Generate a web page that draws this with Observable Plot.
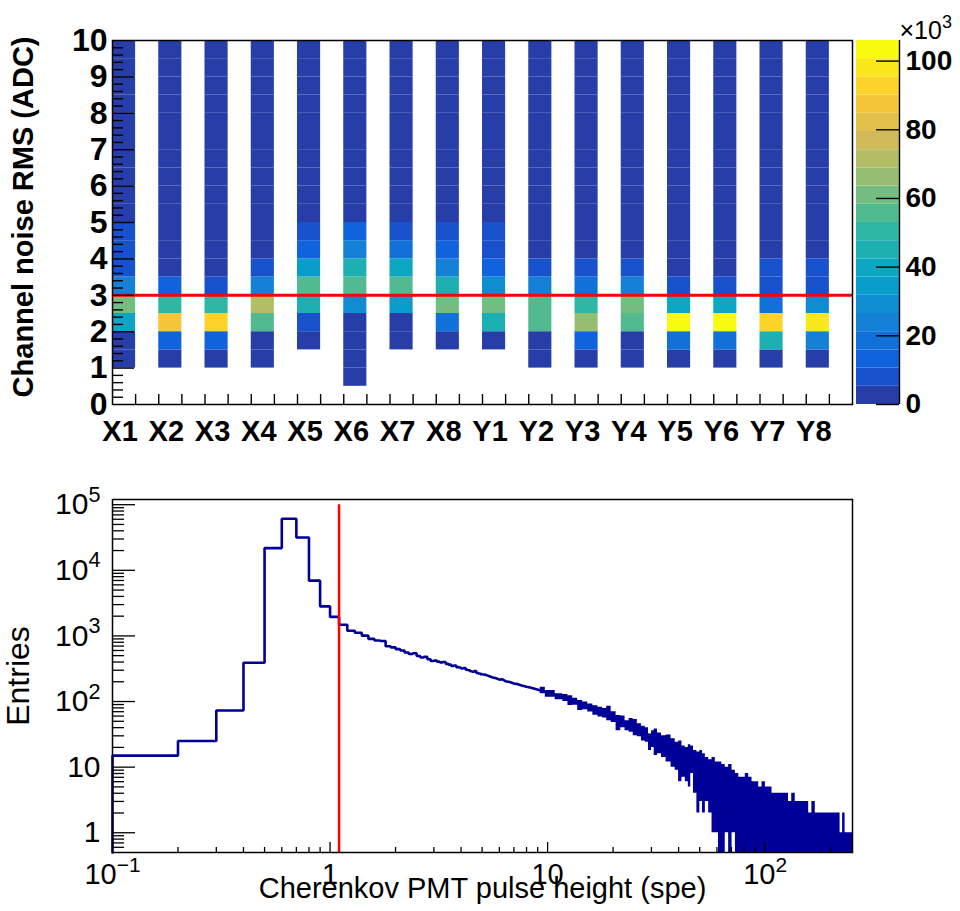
<!DOCTYPE html>
<html>
<head>
<meta charset="utf-8">
<script src="https://cdn.jsdelivr.net/npm/d3@7"></script>
<script src="https://cdn.jsdelivr.net/npm/@observablehq/plot@0.6"></script>
<style>
html, body { margin: 0; padding: 0; background: #fff; }
#chart { position: relative; width: 960px; height: 911px; overflow: hidden; font-family: "Liberation Sans", Arial, sans-serif; }
#chart svg { position: absolute; left: 0; }
</style>
</head>
<body>
<div id="chart"></div>
<script>
// ---------------- data: top panel (channel noise RMS) ----------------
const channels = ["X1","X2","X3","X4","X5","X6","X7","X8","Y1","Y2","Y3","Y4","Y5","Y6","Y7","Y8"];
const rmsBinLow = [0.5,1.0,1.5,2.0,2.5,3.0,3.5,4.0,4.5,5.0,5.5,6.0,6.5,7.0,7.5,8.0,8.5,9.0,9.5];
const rmsBinWidth = 0.5;
// counts per channel, one entry per RMS bin (rmsBinLow order)
const noiseCounts = [
  [0,3500,4800,40000,61000,24000,8500,7500,6000,4000,3000,2300,1800,1400,1100,900,700,600,500],
  [0,3000,13000,87500,50000,12500,4500,3500,2500,1800,1300,1000,800,650,500,400,350,300,250],
  [0,3200,13500,93000,49000,9000,4200,3200,2400,1700,1300,1000,800,600,500,400,350,300,250],
  [0,2500,5000,55000,71000,24500,9000,4800,3600,2600,1900,1400,1100,850,700,550,450,380,320],
  [0,0,3000,9500,45000,55000,35000,14000,7000,5000,3800,2800,2000,1500,1150,900,700,550,450],
  [1500,2500,3500,4500,29000,56000,46000,24000,13000,5000,4000,3000,2200,1600,1200,950,750,600,480],
  [0,0,3500,5000,34000,55000,40000,18500,8000,4800,3600,2600,1900,1400,1100,850,700,550,450],
  [0,0,3000,18000,61000,45000,24000,13500,7500,4600,3400,2500,1800,1350,1050,820,650,520,420],
  [0,0,4000,45000,60000,29000,13000,8500,6500,4500,3400,2500,1800,1350,1050,820,650,520,420],
  [0,2500,5000,56000,57000,24000,9000,4800,3600,2600,1900,1400,1100,850,700,550,450,380,320],
  [0,3000,13500,66000,50000,18500,8500,4500,3400,2500,1800,1350,1050,820,650,520,420,350,300],
  [0,2800,4800,55000,61000,24000,8000,4700,3500,2500,1850,1400,1080,840,680,540,440,370,310],
  [0,3000,18500,106000,40000,9000,5000,3700,2700,2000,1500,1150,900,700,560,450,380,320,270],
  [0,3200,19000,104500,40500,8500,4900,3600,2600,1900,1450,1100,880,690,550,440,370,310,260],
  [0,3500,45000,93000,18000,9500,6500,4800,3600,2600,1900,1400,1100,850,700,550,450,380,320],
  [0,3000,24000,98000,29500,9000,6000,4600,3400,2500,1800,1350,1050,820,650,520,420,350,300]
];
const rmsCut = 3;
const rmsTickLabels = [0,1,2,3,4,5,6,7,8,9,10];
const colorbarTicks = [0,20,40,60,80,100];   // in units of 10^3
const topYTitle = "Channel noise RMS (ADC)";
const colorbarExp = "×10^3";

// ---------------- data: bottom panel (Cherenkov PMT pulse height) ----------------
const pulseBinLow = [0.1,0.2,0.3,0.4,0.5,0.6,0.7,0.8,0.9,
  1.0,1.1,1.2,1.3,1.4,1.5,1.6,1.7,1.8,1.9,
  2.0,2.1,2.2,2.3,2.4,2.5,2.6,2.7,2.8,2.9,
  3.0,3.1,3.2,3.3,3.4,3.5,3.6,3.7,3.8,3.9,
  4.0,4.1,4.2,4.3,4.4,4.5,4.6,4.7,4.8,4.9];
const pulseBinCounts = [15,25,73,390,21800,61000,31700,6950,2820,
  1950,1480,1200,1120,1010,900,850,835,695,670,
  630,600,560,530,545,495,470,480,440,415,
  420,405,395,400,375,365,350,355,335,330,
  318,325,305,300,290,285,292,272,268,262];
const pulseBinWidth = 0.1;
const trendX = [5.0,5.2,5.4,5.6,5.8,6.0,6.2,6.4,6.7,7.0,7.3,7.6,8.0,8.4,8.8,9.2,9.6,10,10.5,11,11.5,12,12.5,13,13.5,14,14.5,15,16,17,18,19,20,21,22,23,24,25,26,27,28,30,32,34,36,38,40,43,46];
const trendY = [260,255,243,232,226,216,218,204,198,188,184,176,168,162,155,149,142,138,131,124,120,114,110,104,101,92,90,86,80,73,68,66,59,54,50,46,44,42,39,36,34,28,25,21,19,17,15,12,11];
const tailX  = [9.25,10.3,11.4,12.1,12.7,13.4,14.1,14.9,15.7,16.6,17.5,18.3,19.1,20.1,21.2,22.2,23.2,24.2,25.3,26.4,27.6,28.6,29.6,30.5,31.3,32.7,34.1,36,37.9,39.3,40.7,42.2,43.7,45,46,47.7,49.4,50.8,52.2,54,56,58,60,62,64.4,66.7,69.2,71.7,74.3,77,79.6,82.5,85.5,88.6,91.8,95,98.5,102,106,109,113,119,126,130,135,140,145,150,156,161,167,173,180,190,200,210,218,224,230,236,253];
const tailLo = [131,116,106,100,87,88,73,75,69,62,58,56,51,48,36,40,36,34,30,29,25,24,18,20,15,16,14,12,10,9,6,7,6,5,8,4,2,3,2,3,2,1,1,0,0,1,0,1,0,0,0,0,0,0,0,0,0,0,0,0,0,0,0,0,0,0,0,0,0,0,0,0,0,0,0,0,0,0,0,0,0];
const tailHi = [165,147,131,128,123,112,104,98,92,86,82,78,85,70,61,60,51,55,53,46,42,40,32,36,38,33,30,31,27,24,25,21,20,22,21,18,17,18,16,14,13,14,12,12,11,10,11,9,8,7,7,8,7,6,6,5,6,5,5,4,4,4,4,3,4,3,3,3,3,2,3,2,2,2,2,2,2,1,2,1,1];
const speCut = 1.1;
const bottomXTitle = "Cherenkov PMT pulse height (spe)";
const bottomYTitle = "Entries";

// ---------------- styling helpers ----------------
const FONT = "'Liberation Sans', Arial, Helvetica, sans-serif";
const W = 960;
const mL = 112, mR = 108;
const frameW = W - mL - mR;
const navy = "#000099";
const red = "#ff0000";

// ROOT kBird palette, 20 contour bands
const birdStops = [
  [0.2082,0.1664,0.5293],[0.0592,0.3599,0.8684],[0.0780,0.5041,0.8385],
  [0.0232,0.6419,0.7914],[0.1802,0.7178,0.6425],[0.5301,0.7492,0.4662],
  [0.8186,0.7328,0.3499],[0.9956,0.7862,0.1968],[0.9764,0.9832,0.0539]
];
const birdInterp = d3.piecewise(d3.interpolateRgb, birdStops.map(c => d3.rgb(c[0]*255, c[1]*255, c[2]*255)));
const nBands = 20;
const bandColors = d3.range(nBands).map(i => birdInterp(Math.floor((i + 0.99) * 255 / nBands) / 254));
const zmax = d3.max(noiseCounts.flat());
const thresholds = d3.range(1, nBands).map(i => i * zmax / nBands);

function supify(svg) {
  svg.querySelectorAll("text").forEach(t => {
    const s = t.textContent;
    const i = s.indexOf("^");
    if (i < 0) return;
    t.textContent = s.slice(0, i);
    const ts = document.createElementNS("http://www.w3.org/2000/svg", "tspan");
    ts.setAttribute("font-size", "72%");
    ts.setAttribute("dy", "-0.58em");
    ts.textContent = s.slice(i + 1);
    t.appendChild(ts);
  });
}
function fmtPow(d) {
  const e = Math.round(Math.log10(d));
  if (e === 0) return "1";
  if (e === 1) return "10";
  return "10^" + (e < 0 ? "\u2212" + (-e) : String(e));
}

const chart = document.getElementById("chart");

// ---------------- top panel ----------------
const topH = 455, tmT = 40, tmB = 51;
const frameHTop = topH - tmT - tmB;
const cells = [];
channels.forEach((ch, i) => noiseCounts[i].forEach((n, k) => {
  if (n > 0) cells.push({ch, i, y1: rmsBinLow[k], y2: rmsBinLow[k] + rmsBinWidth, n});
}));
const yMajorTop = d3.range(1, 10);
const yMinorTop = d3.range(1, 50).filter(i => i % 5 !== 0).map(i => i / 5);
const xTicksTop = d3.range(1, channels.length * 2).map(i => i / 2);

const topPlot = Plot.plot({
  width: W, height: topH,
  marginLeft: mL, marginRight: mR, marginTop: tmT, marginBottom: tmB,
  style: {fontFamily: FONT, background: "transparent", color: "black", overflow: "visible"},
  x: {domain: [0, channels.length]},
  y: {domain: [0, 10]},
  color: {type: "threshold", domain: thresholds, range: bandColors},
  marks: [
    Plot.rect(cells, {x1: d => d.i, x2: d => d.i + rmsBinWidth, y1: "y1", y2: "y2", fill: "n"}),
    Plot.ruleY([rmsCut], {stroke: red, strokeWidth: 3}),
    Plot.ruleY(yMinorTop, {stroke: "black", strokeWidth: 1.4, insetRight: frameW - 11}),
    Plot.ruleY(yMajorTop, {stroke: "black", strokeWidth: 1.4, insetRight: frameW - 22}),
    Plot.ruleX(xTicksTop, {stroke: "black", strokeWidth: 1.4, insetTop: frameHTop - 10}),
    Plot.axisY({ticks: rmsTickLabels, tickSize: 0, tickPadding: 5, fontSize: 32, fontWeight: "bold", label: null}),
    Plot.axisX({ticks: channels.map((_, i) => i + rmsBinWidth / 2), tickFormat: d => channels[Math.floor(d)],
      tickSize: 0, tickPadding: 16, dx: -4, fontSize: 29, fontWeight: "bold", label: null}),
    Plot.text([topYTitle], {text: d => d, frameAnchor: "top-left", rotate: -90, textAnchor: "end", lineAnchor: "middle",
      dx: -89, dy: -4, fontSize: 29, fontWeight: "bold"}),
    Plot.frame({stroke: "black", strokeWidth: 1.5})
  ]
});
topPlot.style.top = "0px";
chart.appendChild(topPlot);

// ---------------- colour bar ----------------
const zmaxK = zmax / 1000;
const bandRects = d3.range(nBands).map(i => ({y1: i * zmaxK / nBands, y2: (i + 1) * zmaxK / nBands, c: bandColors[i]}));
const cbLeft = 856, cbRight = 899;
const cbPlot = Plot.plot({
  width: W, height: topH,
  marginLeft: cbLeft, marginRight: W - cbRight, marginTop: tmT, marginBottom: tmB,
  style: {fontFamily: FONT, background: "transparent", color: "black", overflow: "visible"},
  x: {domain: [0, 1], axis: null},
  y: {domain: [0, zmaxK]},
  color: {type: "identity"},
  marks: [
    Plot.rect(bandRects, {x1: 0, x2: 1, y1: "y1", y2: "y2", fill: "c"}),
    Plot.ruleX([1], {stroke: "black", strokeWidth: 1.4}),
    Plot.ruleY(colorbarTicks, {stroke: "black", strokeWidth: 1.4, insetLeft: (cbRight - cbLeft) - 23}),
    Plot.axisY({anchor: "right", ticks: colorbarTicks, tickSize: 0, tickPadding: 6, fontSize: 28, fontWeight: "bold", label: null}),
    Plot.text([colorbarExp], {text: d => d, frameAnchor: "top-right", textAnchor: "start", lineAnchor: "middle", dy: -10, fontSize: 25})
  ]
});
cbPlot.style.top = "0px";
supify(cbPlot);
chart.appendChild(cbPlot);

// ---------------- bottom panel ----------------
const botTop = 455, botH = 456, bmT = 44, bmB = 59;
const frameHBot = botH - bmT - bmB;
const yFloor = 0.5, yCeil = 1.2e5;
const linePts = [{x: pulseBinLow[0], y: yFloor}];
pulseBinLow.forEach((x0, j) => {
  linePts.push({x: x0, y: pulseBinCounts[j]}, {x: x0 + pulseBinWidth, y: pulseBinCounts[j]});
});
trendX.forEach((x, j) => linePts.push({x, y: trendY[j]}));
const tail = tailX.map((x, j) => ({x, lo: Math.max(tailLo[j], yFloor), hi: Math.max(tailHi[j], yFloor)}));

const yMajorBot = [1, 10, 100, 1e3, 1e4, 1e5];
const yMinorBot = [];
[0.1, 1, 10, 100, 1e3, 1e4].forEach(dec => d3.range(2, 10).forEach(m => { const v = m * dec; if (v > yFloor && v < yCeil) yMinorBot.push(v); }));
const xMajorBot = [1, 10, 100];
const xMinorBot = [];
[0.1, 1, 10, 100].forEach(dec => d3.range(2, 10).forEach(m => { const v = m * dec; if (v < 252) xMinorBot.push(v); }));

const botPlot = Plot.plot({
  width: W, height: botH,
  marginLeft: mL, marginRight: mR, marginTop: bmT, marginBottom: bmB,
  style: {fontFamily: FONT, background: "transparent", color: "black", overflow: "visible"},
  x: {type: "log", domain: [0.1, 252]},
  y: {type: "log", domain: [yFloor, yCeil]},
  marks: [
    Plot.areaY(tail, {x: "x", y1: "lo", y2: "hi", fill: navy, curve: "step"}),
    Plot.line(linePts, {x: "x", y: "y", stroke: navy, strokeWidth: 2.6, strokeLinejoin: "miter"}),
    Plot.ruleX([speCut], {y1: yFloor, y2: 1e5, stroke: red, strokeWidth: 2.5}),
    Plot.ruleY(yMinorBot, {stroke: "black", strokeWidth: 1.3, insetRight: frameW - 12}),
    Plot.ruleY(yMajorBot, {stroke: "black", strokeWidth: 1.3, insetRight: frameW - 23}),
    Plot.ruleX(xMinorBot, {stroke: "black", strokeWidth: 1.3, insetTop: frameHBot - 5}),
    Plot.ruleX(xMajorBot, {stroke: "black", strokeWidth: 1.3, insetTop: frameHBot - 10}),
    Plot.axisY({ticks: yMajorBot, tickFormat: fmtPow, tickSize: 0, tickPadding: 12, fontSize: 30, label: null}),
    Plot.axisX({ticks: [0.1, 1, 10, 100], tickFormat: fmtPow, tickSize: 0, tickPadding: 11, fontSize: 29, label: null}),
    Plot.text([bottomYTitle], {text: d => d, frameAnchor: "left", rotate: -90, textAnchor: "middle", lineAnchor: "middle",
      dx: -94, fontSize: 32}),
    Plot.text([bottomXTitle], {text: d => d, frameAnchor: "bottom", textAnchor: "middle", lineAnchor: "middle",
      dy: 36, fontSize: 29}),
    Plot.frame({stroke: "black", strokeWidth: 1.5})
  ]
});
botPlot.style.top = botTop + "px";
supify(botPlot);
chart.appendChild(botPlot);
</script>
</body>
</html>
